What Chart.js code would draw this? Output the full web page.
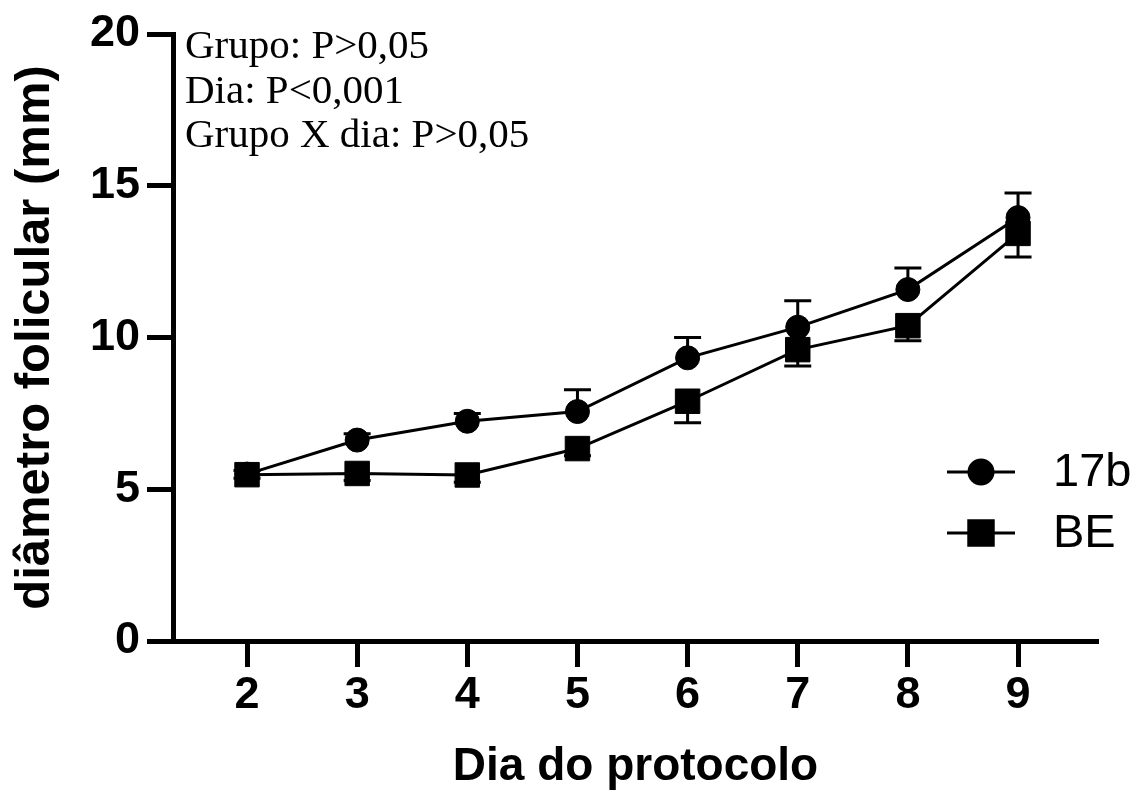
<!DOCTYPE html>
<html>
<head>
<meta charset="utf-8">
<script src="https://cdn.jsdelivr.net/npm/chart.js@4.4.0/dist/chart.umd.min.js"></script>
<style>
  html, body { margin: 0; padding: 0; background: #fff; }
  #wrap { width: 1138px; height: 801px; }
</style>
</head>
<body>
<div id="wrap"><canvas id="myChart" width="1138" height="801"></canvas></div>
<script>
// values (mean and SEM, mm)
var days = [2, 3, 4, 5, 6, 7, 8, 9];
var mean17b = [5.50, 6.62, 7.24, 7.56, 9.33, 10.34, 11.58, 13.95];
var sem17b  = [0.12, 0.21, 0.26, 0.72, 0.67, 0.87, 0.71, 0.81];
var meanBE  = [5.48, 5.52, 5.47, 6.34, 7.90, 9.60, 10.39, 13.43];
var semBE   = [0.12, 0.23, 0.24, 0.24, 0.71, 0.54, 0.50, 0.78];
var yTicks  = [0, 5, 10, 15, 20];
var statLines = ['Grupo: P>0,05', 'Dia: P<0,001', 'Grupo X dia: P>0,05'];

var ctx = document.getElementById('myChart');
var sans = '"Liberation Sans", Arial, sans-serif';

function toPoints(means) {
  return days.map(function (d, i) { return { x: d, y: means[i] }; });
}

// SEM whiskers: 17b goes up, BE goes down (drawn under the lines)
var errorBars = {
  id: 'errorBars',
  beforeDatasetsDraw: function (chart) {
    var c = chart.ctx;
    var xs = chart.scales.x, ys = chart.scales.y;
    chart.data.datasets.forEach(function (ds) {
      c.save();
      c.strokeStyle = '#000';
      c.lineWidth = 3;
      ds.data.forEach(function (p, j) {
        var x = xs.getPixelForValue(p.x);
        var y0 = ys.getPixelForValue(p.y);
        var y1 = ys.getPixelForValue(p.y + ds.errDir * ds.sem[j]);
        c.beginPath();
        c.moveTo(x, y0); c.lineTo(x, y1);
        c.moveTo(x - 13.5, y1); c.lineTo(x + 13.5, y1);
        c.stroke();
      });
      c.restore();
    });
  }
};

// stats text in the upper left corner
var statsText = {
  id: 'statsText',
  afterDraw: function (chart) {
    var c = chart.ctx;
    c.save();
    c.fillStyle = '#000';
    c.font = '41px "Liberation Serif", "Times New Roman", serif';
    c.textAlign = 'left';
    c.textBaseline = 'alphabetic';
    for (var i = 0; i < statLines.length; i++) {
      c.fillText(statLines[i], 185, 58 + i * 44.5);
    }
    c.restore();
  }
};

// GraphPad style legend: line with marker, then label
var lineLegend = {
  id: 'lineLegend',
  afterDraw: function (chart) {
    var c = chart.ctx;
    chart.data.datasets.forEach(function (ds, i) {
      var y = 472 + i * 61;
      c.save();
      c.strokeStyle = '#000';
      c.fillStyle = '#000';
      c.lineWidth = 3;
      c.beginPath();
      c.moveTo(947, y); c.lineTo(1015, y);
      c.stroke();
      Chart.helpers.drawPoint(c, {
        pointStyle: ds.pointStyle, radius: ds.pointRadius, borderWidth: 1, rotation: 0
      }, 981, y);
      c.font = '47px ' + sans;
      c.textAlign = 'left';
      c.textBaseline = 'middle';
      c.fillText(ds.label, 1053, y + 1);
      c.restore();
    });
  }
};

new Chart(ctx, {
  type: 'line',
  data: {
    datasets: [{
      label: '17b',
      data: toPoints(mean17b),
      sem: sem17b,
      errDir: 1,
      borderColor: '#000',
      backgroundColor: '#000',
      borderWidth: 3,
      pointStyle: 'circle',
      pointRadius: 12,
      pointHoverRadius: 12,
      pointBorderWidth: 1,
      tension: 0
    }, {
      label: 'BE',
      data: toPoints(meanBE),
      sem: semBE,
      errDir: -1,
      borderColor: '#000',
      backgroundColor: '#000',
      borderWidth: 3,
      pointStyle: 'rect',
      pointRadius: 17.3,
      pointHoverRadius: 17.3,
      pointBorderWidth: 1,
      tension: 0
    }]
  },
  options: {
    responsive: false,
    animation: false,
    layout: { padding: { top: 28, right: 40, left: 0, bottom: 0 } },
    plugins: {
      legend: { display: false },
      tooltip: { enabled: false }
    },
    scales: {
      x: {
        type: 'linear',
        min: 1.328,
        max: 9.726,
        afterBuildTicks: function (scale) {
          scale.ticks = days.map(function (d) { return { value: d }; });
        },
        afterFit: function (scale) { scale.height = 160; },
        ticks: {
          color: '#000',
          padding: 2,
          font: { family: sans, size: 45, weight: 'bold' }
        },
        grid: {
          display: true,
          drawOnChartArea: false,
          drawTicks: true,
          tickLength: 26,
          tickWidth: 5,
          tickColor: '#000'
        },
        border: { display: true, color: '#000', width: 5 },
        title: {
          display: true,
          text: 'Dia do protocolo',
          color: '#000',
          font: { family: sans, size: 46, weight: 'bold' },
          padding: { top: 0, bottom: 6 }
        }
      },
      y: {
        min: 0,
        max: 20,
        afterBuildTicks: function (scale) {
          scale.ticks = yTicks.map(function (v) { return { value: v }; });
        },
        afterFit: function (scale) { scale.width = 173; },
        ticks: {
          color: '#000',
          padding: 7,
          font: { family: sans, size: 45, weight: 'bold' }
        },
        grid: {
          display: true,
          drawOnChartArea: false,
          drawTicks: true,
          tickLength: 26,
          tickWidth: 5,
          tickColor: '#000'
        },
        border: { display: true, color: '#000', width: 5 },
        title: {
          display: true,
          text: 'diâmetro folicular (mm)',
          color: '#000',
          font: { family: sans, size: 49, weight: 'bold' },
          padding: { top: 6, bottom: 0 }
        }
      }
    }
  },
  plugins: [errorBars, statsText, lineLegend]
});
</script>
</body>
</html>
